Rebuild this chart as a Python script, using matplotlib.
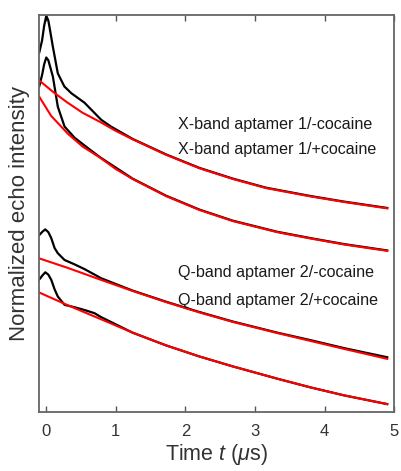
import matplotlib
matplotlib.use("Agg")
import matplotlib.pyplot as plt

plt.rcParams['font.family'] = ['Liberation Sans', 'DejaVu Sans']
plt.rcParams['mathtext.fontset'] = 'custom'
plt.rcParams['mathtext.rm'] = 'Liberation Sans'
plt.rcParams['mathtext.it'] = 'Liberation Sans:italic'

# Echo decay traces (time in microseconds, intensity in stacked normalized units)
x1_black_t = [-0.10, -0.06, -0.03, 0.00, 0.03, 0.06, 0.095, 0.166, 0.26, 0.36, 0.55, 0.79, 0.93,
              1.24, 1.72, 2.20, 2.68, 3.16, 3.80, 4.28, 4.90]
x1_black_y = [0.905, 0.935, 0.972, 0.997, 0.985, 0.955, 0.919, 0.852, 0.819, 0.802, 0.778, 0.735, 0.718,
              0.687, 0.648, 0.614, 0.587, 0.564, 0.543, 0.529, 0.513]
x1_fit_t = [-0.10, 0.10, 0.30, 0.52, 0.77, 1.00, 1.24, 1.72, 2.20, 2.68, 3.16, 3.80, 4.28, 4.90]
x1_fit_y = [0.834, 0.805, 0.779, 0.753, 0.730, 0.707, 0.686, 0.647, 0.613, 0.586, 0.563, 0.542, 0.528, 0.512]

x2_black_t = [-0.10, -0.06, -0.03, 0.00, 0.03, 0.06, 0.095, 0.166, 0.263, 0.406, 0.597, 0.77,
              1.24, 1.72, 2.20, 2.68, 3.32, 3.80, 4.28, 4.90]
x2_black_y = [0.820, 0.848, 0.875, 0.892, 0.885, 0.866, 0.844, 0.768, 0.718, 0.690, 0.664, 0.641,
              0.587, 0.544, 0.509, 0.481, 0.453, 0.437, 0.422, 0.406]
x2_fit_t = [-0.10, 0.07, 0.31, 0.52, 0.77, 1.00, 1.24, 1.72, 2.20, 2.68, 3.32, 3.80, 4.28, 4.90]
x2_fit_y = [0.793, 0.745, 0.700, 0.668, 0.640, 0.611, 0.586, 0.543, 0.508, 0.480, 0.452, 0.436, 0.421, 0.405]

q1_black_t = [-0.10, -0.05, -0.014, 0.03, 0.072, 0.12, 0.166, 0.263, 0.406, 0.55, 0.789, 1.02,
              1.24, 1.72, 2.20, 2.68, 3.32, 3.80, 4.28, 4.90]
q1_black_y = [0.445, 0.454, 0.459, 0.452, 0.437, 0.412, 0.399, 0.382, 0.371, 0.359, 0.336, 0.320,
              0.305, 0.277, 0.251, 0.227, 0.199, 0.180, 0.160, 0.137]
q1_fit_t = [-0.10, 0.31, 0.77, 1.24, 1.72, 2.20, 2.68, 3.32, 3.80, 4.28, 4.90]
q1_fit_y = [0.386, 0.362, 0.333, 0.304, 0.276, 0.250, 0.226, 0.198, 0.178, 0.158, 0.133]

q2_black_t = [-0.10, -0.05, -0.014, 0.03, 0.072, 0.12, 0.166, 0.263, 0.406, 0.55, 0.693, 0.789,
              1.24, 1.72, 2.20, 2.68, 3.32, 3.80, 4.28, 4.90]
q2_black_y = [0.333, 0.344, 0.351, 0.345, 0.332, 0.308, 0.290, 0.269, 0.263, 0.256, 0.248, 0.238,
              0.199, 0.167, 0.139, 0.114, 0.083, 0.061, 0.041, 0.019]
q2_fit_t = [-0.10, 0.31, 0.77, 1.24, 1.72, 2.20, 2.68, 3.32, 3.80, 4.28, 4.90]
q2_fit_y = [0.300, 0.268, 0.234, 0.199, 0.167, 0.139, 0.114, 0.083, 0.061, 0.041, 0.019]

labels = ["X-band aptamer 1/-cocaine", "X-band aptamer 1/+cocaine",
          "Q-band aptamer 2/-cocaine", "Q-band aptamer 2/+cocaine"]
label_y = [0.724, 0.660, 0.350, 0.280]
xticks = [0, 1, 2, 3, 4, 5]

fig = plt.figure(figsize=(4.01, 4.71), dpi=100)
ax = fig.add_axes([0.098, 0.126, 0.885, 0.843])

black_sets = [(x1_black_t, x1_black_y), (x2_black_t, x2_black_y),
              (q1_black_t, q1_black_y), (q2_black_t, q2_black_y)]
fit_sets = [(x1_fit_t, x1_fit_y), (x2_fit_t, x2_fit_y),
            (q1_fit_t, q1_fit_y), (q2_fit_t, q2_fit_y)]

for t, y in black_sets:
    ax.plot(t, y, color='black', lw=1.6, solid_joinstyle='round')
for t, y in fit_sets:
    ax.plot(t, y, color='#ff0000', lw=1.5, solid_joinstyle='round')

for text, yy in zip(labels, label_y):
    ax.text(1.89, yy, text, fontsize=11.6, color='#1a1a1a', va='center', ha='left')

ax.set_xlim(-0.1, 5.0)
ax.set_ylim(0, 1)
ax.set_xticks(xticks)
ax.set_yticks([])
ax.tick_params(axis='x', direction='in', top=True, bottom=True, length=4,
               width=1.0, color='#555555', labelsize=12, labelcolor='#333333', pad=9)
for s in ax.spines.values():
    s.set_color('#666666')
    s.set_linewidth(1.3)

ax.set_xlabel('Time $t$ ($\\mu$s)', fontsize=15.5, color='#333333', labelpad=2)
ax.set_ylabel('Normalized echo intensity', fontsize=16, color='#333333', labelpad=7)

fig.savefig('out.png', dpi=100)
